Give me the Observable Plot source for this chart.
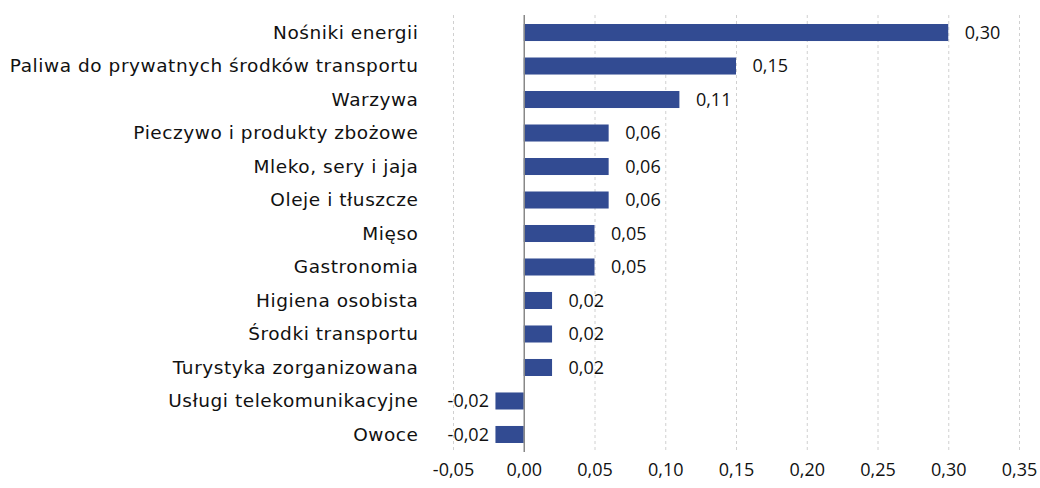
<!DOCTYPE html>
<html><head><meta charset="utf-8">
<script src="https://cdn.jsdelivr.net/npm/d3@7"></script>
<script src="https://cdn.jsdelivr.net/npm/@observablehq/plot@0.6"></script>
<style>
body{margin:0;background:#fff;}
svg{font-family:"Open Sans",sans-serif;}
g[aria-label="y-axis tick label"] text{letter-spacing:0.55px;}
</style></head>
<body><div id="chart"></div>
<script>
const categories = ["Nośniki energii","Paliwa do prywatnych środków transportu","Warzywa","Pieczywo i produkty zbożowe","Mleko, sery i jaja","Oleje i tłuszcze","Mięso","Gastronomia","Higiena osobista","Środki transportu","Turystyka zorganizowana","Usługi telekomunikacyjne","Owoce"];
const values = [0.30,0.15,0.11,0.06,0.06,0.06,0.05,0.05,0.02,0.02,0.02,-0.02,-0.02];
const xTicks = [-0.05,0,0.05,0.10,0.15,0.20,0.25,0.30,0.35];
const data = categories.map((c,i)=>({cat:c, v:values[i]}));
const fmt = d => d.toFixed(2).replace(".", ",");
const chart = Plot.plot({
  width:1040, height:488,
  marginLeft:453, marginRight:21, marginTop:15, marginBottom:36,
  x:{domain:[-0.05,0.35], ticks:xTicks, tickFormat:fmt, label:null},
  y:{domain:categories, label:null, paddingInner:0.492, paddingOuter:0.269, round:false},
  marks:[
    Plot.ruleX(xTicks.filter(t=>t!==0), {stroke:"#d0d0d0", strokeDasharray:"3,3", strokeWidth:1}),
    Plot.barX(data, {x:"v", y:"cat", fill:"#324B92"}),
    Plot.ruleX([0], {stroke:"#888", strokeWidth:1.5}),
    Plot.text(data.filter(d=>d.v>=0), {x:"v", y:"cat", text:d=>fmt(d.v), textAnchor:"start", dx:16, fontSize:18, fill:"#111"}),
    Plot.text(data.filter(d=>d.v<0), {x:"v", y:"cat", text:d=>fmt(d.v), textAnchor:"end", dx:-7, fontSize:18, fill:"#111"}),
    Plot.axisY({tickSize:0, tickPadding:35, fontSize:18.5, label:null, fill:"#111", fontFamily:"DejaVu Sans"}),
    Plot.axisX({ticks:xTicks, tickFormat:fmt, tickSize:0, tickPadding:11, fontSize:18, label:null, fill:"#111"})
  ]
});
document.getElementById("chart").appendChild(chart);
</script></body></html>
